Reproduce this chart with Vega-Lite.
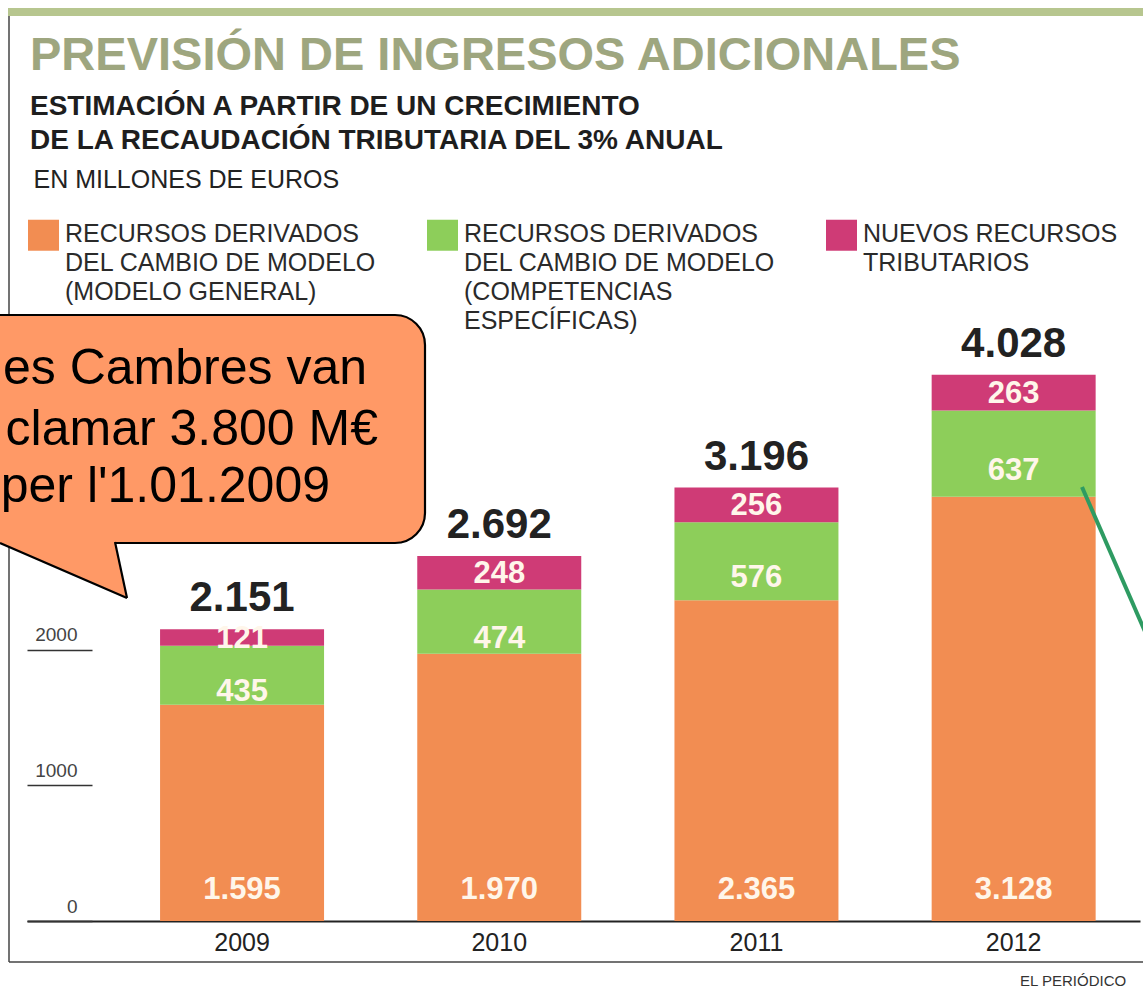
{
  "$schema": "https://vega.github.io/schema/vega-lite/v6.json",
  "autosize": {"type": "none"},
  "width": 1113,
  "height": 678,
  "padding": {"left": 27, "top": 243, "right": 3, "bottom": 70},
  "background": "white",
  "config": {
    "view": {"stroke": null},
    "font": "Liberation Sans",
    "locale": {"number": {"decimal": ",", "thousands": ".", "grouping": [3], "currency": ["", "€"]}},
    "style": {"guide-label": {"lineHeight": 29}}
  },
  "title": {
    "text": "PREVISIÓN DE INGRESOS ADICIONALES",
    "subtitle": ["ESTIMACIÓN A PARTIR DE UN CRECIMIENTO", "DE LA RECAUDACIÓN TRIBUTARIA DEL 3% ANUAL"],
    "anchor": "start",
    "frame": "group",
    "font": "Liberation Sans",
    "fontSize": 47,
    "fontWeight": "bold",
    "color": "#9ea67f",
    "subtitleFont": "Liberation Sans",
    "subtitleFontSize": 28,
    "subtitleFontWeight": "bold",
    "subtitleColor": "#1e1e1e",
    "subtitleLineHeight": 34,
    "subtitlePadding": 13,
    "offset": -148,
    "dx": 3
  },
  "datasets": {
    "seg": [
      {"year": "2009", "k": "gen", "cat": "RECURSOS DERIVADOS\nDEL CAMBIO DE MODELO\n(MODELO GENERAL)", "value": 1595},
      {"year": "2009", "k": "esp", "cat": "RECURSOS DERIVADOS\nDEL CAMBIO DE MODELO\n(COMPETENCIAS\nESPECÍFICAS)", "value": 435},
      {"year": "2009", "k": "nue", "cat": "NUEVOS RECURSOS\nTRIBUTARIOS", "value": 121},
      {"year": "2010", "k": "gen", "cat": "RECURSOS DERIVADOS\nDEL CAMBIO DE MODELO\n(MODELO GENERAL)", "value": 1970},
      {"year": "2010", "k": "esp", "cat": "RECURSOS DERIVADOS\nDEL CAMBIO DE MODELO\n(COMPETENCIAS\nESPECÍFICAS)", "value": 474},
      {"year": "2010", "k": "nue", "cat": "NUEVOS RECURSOS\nTRIBUTARIOS", "value": 248},
      {"year": "2011", "k": "gen", "cat": "RECURSOS DERIVADOS\nDEL CAMBIO DE MODELO\n(MODELO GENERAL)", "value": 2365},
      {"year": "2011", "k": "esp", "cat": "RECURSOS DERIVADOS\nDEL CAMBIO DE MODELO\n(COMPETENCIAS\nESPECÍFICAS)", "value": 576},
      {"year": "2011", "k": "nue", "cat": "NUEVOS RECURSOS\nTRIBUTARIOS", "value": 256},
      {"year": "2012", "k": "gen", "cat": "RECURSOS DERIVADOS\nDEL CAMBIO DE MODELO\n(MODELO GENERAL)", "value": 3128},
      {"year": "2012", "k": "esp", "cat": "RECURSOS DERIVADOS\nDEL CAMBIO DE MODELO\n(COMPETENCIAS\nESPECÍFICAS)", "value": 637},
      {"year": "2012", "k": "nue", "cat": "NUEVOS RECURSOS\nTRIBUTARIOS", "value": 263}
    ],
    "tot": [
      {"year": "2009", "total": 2151},
      {"year": "2010", "total": 2692},
      {"year": "2011", "total": 3196},
      {"year": "2012", "total": 4028}
    ]
  },
  "layer": [
    {
      "layer": [
        {
          "data": {"name": "seg"},
          "mark": {"type": "bar"},
          "encoding": {
            "x": {
              "field": "year", "type": "nominal",
              "scale": {"type": "band", "paddingInner": 0.3624, "paddingOuter": 0.3449, "align": 0.75, "round": false},
              "axis": {"title": null, "domain": true, "domainColor": "#222", "domainWidth": 2, "ticks": false, "labelFont": "Liberation Sans", "labelFontSize": 25, "labelColor": "#222", "labelPadding": 9, "labelAngle": 0}
            },
            "y": {
              "field": "value", "type": "quantitative", "stack": "zero", "title": "EN MILLONES DE EUROS",
              "scale": {"domain": [0, 5000], "nice": false, "zero": true},
              "axis": {
                "values": [0, 1000, 2000], "format": "d", "domain": false, "grid": false,
                "offset": -65, "tickSize": 65, "tickColor": "#333", "tickWidth": 1.5,
                "labelAlign": "right", "labelBaseline": "alphabetic", "labelPadding": -50, "labelOffset": -9,
                "labelFont": "Liberation Sans", "labelFontSize": 19, "labelColor": "#444",
                "titleAngle": 0, "titleAlign": "left", "titleBaseline": "middle", "titleX": -59, "titleY": -64,
                "titleFont": "Liberation Sans", "titleFontSize": 25, "titleFontWeight": "normal", "titleColor": "#222"
              }
            },
            "color": {
              "field": "cat", "type": "nominal",
              "scale": {
                "domain": ["RECURSOS DERIVADOS\nDEL CAMBIO DE MODELO\n(MODELO GENERAL)", "RECURSOS DERIVADOS\nDEL CAMBIO DE MODELO\n(COMPETENCIAS\nESPECÍFICAS)", "NUEVOS RECURSOS\nTRIBUTARIOS"],
                "range": ["#f28d52", "#8dce5a", "#cf3b76"]
              },
              "legend": {
                "title": null, "orient": "none", "legendX": 1, "legendY": -37, "padding": 0,
                "direction": "horizontal", "columns": 3, "gridAlign": "all", "columnPadding": 50,
                "symbolType": "M-1,-0.13H1V1.87H-1Z", "symbolSize": 961, "symbolStrokeWidth": 0, "symbolOpacity": 1,
                "labelFont": "Liberation Sans", "labelFontSize": 25, "labelColor": "#2a2a2a", "labelLimit": 0,
                "labelOffset": 6, "labelBaseline": "top",
                "labelExpr": "slice(split(datum.label + '\\n \\n \\n ', '\\n'), 0, 4)"
              }
            },
            "order": {"field": "cat", "sort": "descending"}
          }
        },
        {
          "data": {"name": "seg"},
          "mark": {"type": "text", "font": "Liberation Sans", "fontSize": 31, "fontWeight": "bold", "color": "#fff6ea", "baseline": "middle", "dy": 17},
          "encoding": {
            "x": {"field": "year", "type": "nominal"},
            "y": {"field": "value", "type": "quantitative", "stack": "zero", "bandPosition": 0.5, "title": "EN MILLONES DE EUROS"},
            "detail": {"field": "cat"},
            "order": {"field": "cat", "sort": "descending"},
            "text": {"field": "value", "type": "quantitative", "format": ",d", "condition": {"test": "datum.k !== 'esp'", "value": ""}}
          }
        },
        {
          "data": {"name": "seg"},
          "mark": {"type": "text", "font": "Liberation Sans", "fontSize": 31, "fontWeight": "bold", "color": "#fff6ea", "baseline": "middle", "dy": 1},
          "encoding": {
            "x": {"field": "year", "type": "nominal"},
            "y": {"field": "value", "type": "quantitative", "stack": "zero", "bandPosition": 0.5, "title": "EN MILLONES DE EUROS"},
            "detail": {"field": "cat"},
            "order": {"field": "cat", "sort": "descending"},
            "text": {"field": "value", "type": "quantitative", "format": ",d", "condition": {"test": "datum.k !== 'nue'", "value": ""}}
          }
        },
        {
          "data": {"name": "seg"},
          "mark": {"type": "text", "font": "Liberation Sans", "fontSize": 31, "fontWeight": "bold", "color": "#fff6ea", "baseline": "middle", "dy": -31},
          "encoding": {
            "x": {"field": "year", "type": "nominal"},
            "y": {"field": "value", "type": "quantitative", "stack": "zero", "bandPosition": 0, "title": "EN MILLONES DE EUROS"},
            "detail": {"field": "cat"},
            "order": {"field": "cat", "sort": "descending"},
            "text": {"field": "value", "type": "quantitative", "format": ",d", "condition": {"test": "datum.k !== 'gen'", "value": ""}}
          }
        },
        {
          "data": {"name": "tot"},
          "mark": {"type": "text", "font": "Liberation Sans", "fontSize": 42, "fontWeight": "bold", "color": "#222", "baseline": "alphabetic", "dy": -18},
          "encoding": {
            "x": {"field": "year", "type": "nominal"},
            "y": {"field": "total", "type": "quantitative", "title": "EN MILLONES DE EUROS"},
            "text": {"field": "total", "type": "quantitative", "format": ",d"}
          }
        }
      ]
    },
    {
      "layer": [
        {
          "data": {"values": [{"x": -19, "x2": 1123, "y": 913, "y2": 905}]},
          "mark": {"type": "rect", "color": "#b7c68f"},
          "encoding": {
            "x": {"field": "x", "type": "quantitative", "scale": {"domain": [0, 1113], "nice": false, "zero": false}, "axis": null},
            "x2": {"field": "x2"},
            "y": {"field": "y", "type": "quantitative", "scale": {"domain": [0, 678], "nice": false, "zero": false}, "axis": null},
            "y2": {"field": "y2"}
          }
        },
        {
          "data": {"values": [{"x": -18, "y": 905, "x2": -18, "y2": -41}, {"x": -18, "y": -41, "x2": 1133, "y2": -41}]},
          "mark": {"type": "rule", "color": "#444", "strokeWidth": 1.5},
          "encoding": {
            "x": {"field": "x", "type": "quantitative", "scale": {"domain": [0, 1113], "nice": false, "zero": false}, "axis": null},
            "x2": {"field": "x2"},
            "y": {"field": "y", "type": "quantitative", "scale": {"domain": [0, 678], "nice": false, "zero": false}, "axis": null},
            "y2": {"field": "y2"}
          }
        },
        {
          "data": {"values": [{"x": 993, "y": -60, "label": "EL PERIÓDICO"}]},
          "mark": {"type": "text", "font": "Liberation Sans", "fontSize": 15, "color": "#333", "align": "left", "baseline": "middle"},
          "encoding": {
            "x": {"field": "x", "type": "quantitative", "scale": {"domain": [0, 1113], "nice": false, "zero": false}, "axis": null},
            "y": {"field": "y", "type": "quantitative", "scale": {"domain": [0, 678], "nice": false, "zero": false}, "axis": null},
            "text": {"field": "label"}
          }
        },
        {
          "data": {"values": [{"x": -230, "x2": 398, "y": 606, "y2": 378}]},
          "mark": {"type": "rect", "fill": "#ff9966", "stroke": "#000", "strokeWidth": 2.2, "cornerRadius": 30},
          "encoding": {
            "x": {"field": "x", "type": "quantitative", "scale": {"domain": [0, 1113], "nice": false, "zero": false}, "axis": null},
            "x2": {"field": "x2"},
            "y": {"field": "y", "type": "quantitative", "scale": {"domain": [0, 678], "nice": false, "zero": false}, "axis": null},
            "y2": {"field": "y2"}
          }
        },
        {
          "data": {"values": [{"y": 381, "x": -34, "x2": 87.6}, {"y": 323, "x": 100, "x2": 100}]},
          "mark": {"type": "area", "orient": "horizontal", "fill": "#ff9966", "strokeWidth": 0},
          "encoding": {
            "x": {"field": "x", "type": "quantitative", "scale": {"domain": [0, 1113], "nice": false, "zero": false}, "axis": null},
            "x2": {"field": "x2"},
            "y": {"field": "y", "type": "quantitative", "scale": {"domain": [0, 678], "nice": false, "zero": false}, "axis": null}
          }
        },
        {
          "data": {"values": [{"x": -27, "y": 378, "x2": 100, "y2": 323}, {"x": 88, "y": 379, "x2": 100, "y2": 323}]},
          "mark": {"type": "rule", "color": "#000", "strokeWidth": 2.2},
          "encoding": {
            "x": {"field": "x", "type": "quantitative", "scale": {"domain": [0, 1113], "nice": false, "zero": false}, "axis": null},
            "x2": {"field": "x2"},
            "y": {"field": "y", "type": "quantitative", "scale": {"domain": [0, 678], "nice": false, "zero": false}, "axis": null},
            "y2": {"field": "y2"}
          }
        },
        {
          "data": {"values": [{"x": 340, "y": 552, "label": "es Cambres van"}, {"x": 351, "y": 491, "label": "clamar 3.800 M€"}, {"x": 303, "y": 434, "label": "per l'1.01.2009"}]},
          "mark": {"type": "text", "font": "Liberation Sans", "fontSize": 50, "color": "#000", "align": "right", "baseline": "middle"},
          "encoding": {
            "x": {"field": "x", "type": "quantitative", "scale": {"domain": [0, 1113], "nice": false, "zero": false}, "axis": null},
            "y": {"field": "y", "type": "quantitative", "scale": {"domain": [0, 678], "nice": false, "zero": false}, "axis": null},
            "text": {"field": "label"}
          }
        },
        {
          "data": {"values": [{"x": 1055, "y": 434, "x2": 1143, "y2": 232}]},
          "mark": {"type": "rule", "color": "#2e9b62", "strokeWidth": 4},
          "encoding": {
            "x": {"field": "x", "type": "quantitative", "scale": {"domain": [0, 1113], "nice": false, "zero": false}, "axis": null},
            "x2": {"field": "x2"},
            "y": {"field": "y", "type": "quantitative", "scale": {"domain": [0, 678], "nice": false, "zero": false}, "axis": null},
            "y2": {"field": "y2"}
          }
        }
      ]
    }
  ],
  "resolve": {"scale": {"x": "independent", "y": "independent"}}
}
